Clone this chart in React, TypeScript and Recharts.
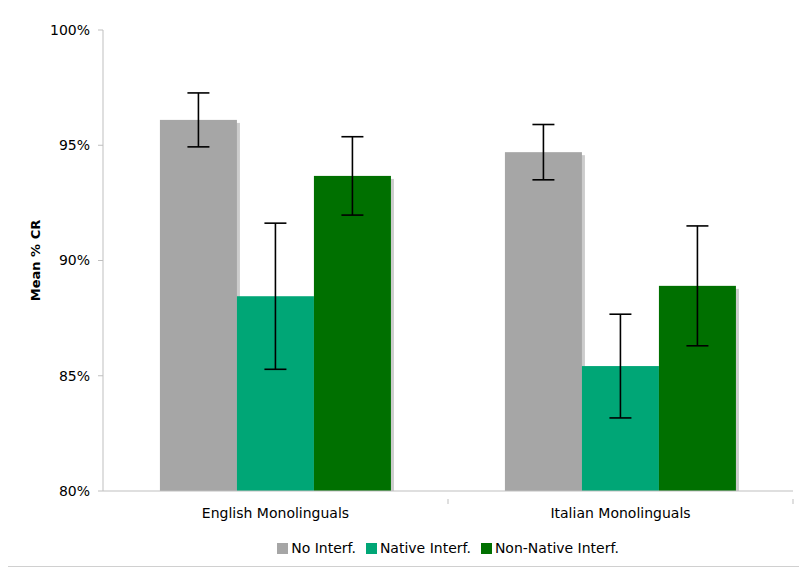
import React from "react";
import { BarChart, Bar, XAxis, YAxis, Legend, ErrorBar } from "recharts";

const categories = ["English Monolinguals", "Italian Monolinguals"];
const noInterf = [96.1, 94.7];
const noInterfErr = [1.17, 1.2];
const nativeInterf = [88.45, 85.42];
const nativeInterfErr = [3.17, 2.25];
const nonNativeInterf = [93.67, 88.9];
const nonNativeInterfErr = [1.7, 2.6];
const yTicks = [80, 85, 90, 95, 100];

const seriesNames = ["No Interf.", "Native Interf.", "Non-Native Interf."];
const seriesColors = ["#a6a6a6", "#00a676", "#007000"];

const data = categories.map((c, i) => ({
  name: c,
  no: noInterf[i],
  noErr: noInterfErr[i],
  native: nativeInterf[i],
  nativeErr: nativeInterfErr[i],
  nonNative: nonNativeInterf[i],
  nonNativeErr: nonNativeInterfErr[i],
}));

const W = 807;
const H = 571;
const M = { top: 30, right: 14, left: 0, bottom: 0 };
const Y_W = 103;
const X_H = 80;
const band = (W - Y_W - M.right) / categories.length;
const FONT = "DejaVu Sans, Verdana, sans-serif";

const ShadowBar = (props: any) => {
  const { x, y, width, height, fill } = props;
  if (height == null || height <= 0) return null;
  return (
    <g>
      <rect x={x + 3} y={y + 3} width={width} height={Math.max(0, height - 3)} fill="#cccccc" />
      <rect x={x} y={y} width={width} height={height} fill={fill} />
    </g>
  );
};

const XTick = (props: any) => {
  const { x, y, payload } = props;
  return (
    <g>
      <line x1={x + band / 2} y1={y} x2={x + band / 2} y2={y + 5} stroke="#bfbfbf" />
      <text x={x} y={y + 19} textAnchor="middle" fontSize={14} fill="#000" fontFamily={FONT}>
        {payload.value}
      </text>
    </g>
  );
};

const LegendContent = () => (
  <div style={{ display: "flex", justifyContent: "center", fontFamily: FONT, fontSize: 14, color: "#000" }}>
    {seriesNames.map((n, i) => (
      <div
        key={n}
        style={{ display: "flex", alignItems: "center", marginRight: i < seriesNames.length - 1 ? 10 : 0 }}
      >
        <span style={{ display: "inline-block", width: 11, height: 11, background: seriesColors[i], marginRight: 3 }} />
        <span>{n}</span>
      </div>
    ))}
  </div>
);

export default function App() {
  return (
    <div style={{ position: "absolute", left: 0, top: 0, width: W, height: H, background: "#fff" }}>
      <div style={{ position: "absolute", left: 8, right: 8, bottom: 4, height: 1, background: "#d0d0d0" }} />
      <BarChart
        width={W}
        height={H}
        data={data}
        margin={M}
        barCategoryGap="16.5%"
        barGap={0}
        style={{ fontFamily: FONT }}
      >
        <XAxis
          dataKey="name"
          height={X_H}
          axisLine={{ stroke: "#bfbfbf" }}
          tickLine={false}
          tick={<XTick />}
          interval={0}
        />
        <YAxis
          domain={[80, 100]}
          ticks={yTicks}
          tickFormatter={(v: number) => `${v}%`}
          axisLine={{ stroke: "#bfbfbf" }}
          tickLine={{ stroke: "#bfbfbf" }}
          tickSize={5}
          tickMargin={8}
          tick={{ fill: "#000", fontSize: 14, fontFamily: FONT }}
          width={Y_W}
          label={{
            value: "Mean % CR",
            angle: -90,
            position: "insideLeft",
            offset: 0,
            dx: 35,
            style: { fontWeight: "bold", fontSize: 13, fill: "#000", textAnchor: "middle", fontFamily: FONT },
          }}
        />
        <Legend
          verticalAlign="middle"
          layout="horizontal"
          content={<LegendContent />}
          wrapperStyle={{ top: 540, left: 0, width: 896 }}
        />
        <Bar dataKey="no" name={seriesNames[0]} fill={seriesColors[0]} shape={<ShadowBar />} isAnimationActive={false}>
          <ErrorBar dataKey="noErr" width={11} stroke="#000" strokeWidth={1.6} />
        </Bar>
        <Bar dataKey="native" name={seriesNames[1]} fill={seriesColors[1]} shape={<ShadowBar />} isAnimationActive={false}>
          <ErrorBar dataKey="nativeErr" width={11} stroke="#000" strokeWidth={1.6} />
        </Bar>
        <Bar dataKey="nonNative" name={seriesNames[2]} fill={seriesColors[2]} shape={<ShadowBar />} isAnimationActive={false}>
          <ErrorBar dataKey="nonNativeErr" width={11} stroke="#000" strokeWidth={1.6} />
        </Bar>
      </BarChart>
    </div>
  );
}
